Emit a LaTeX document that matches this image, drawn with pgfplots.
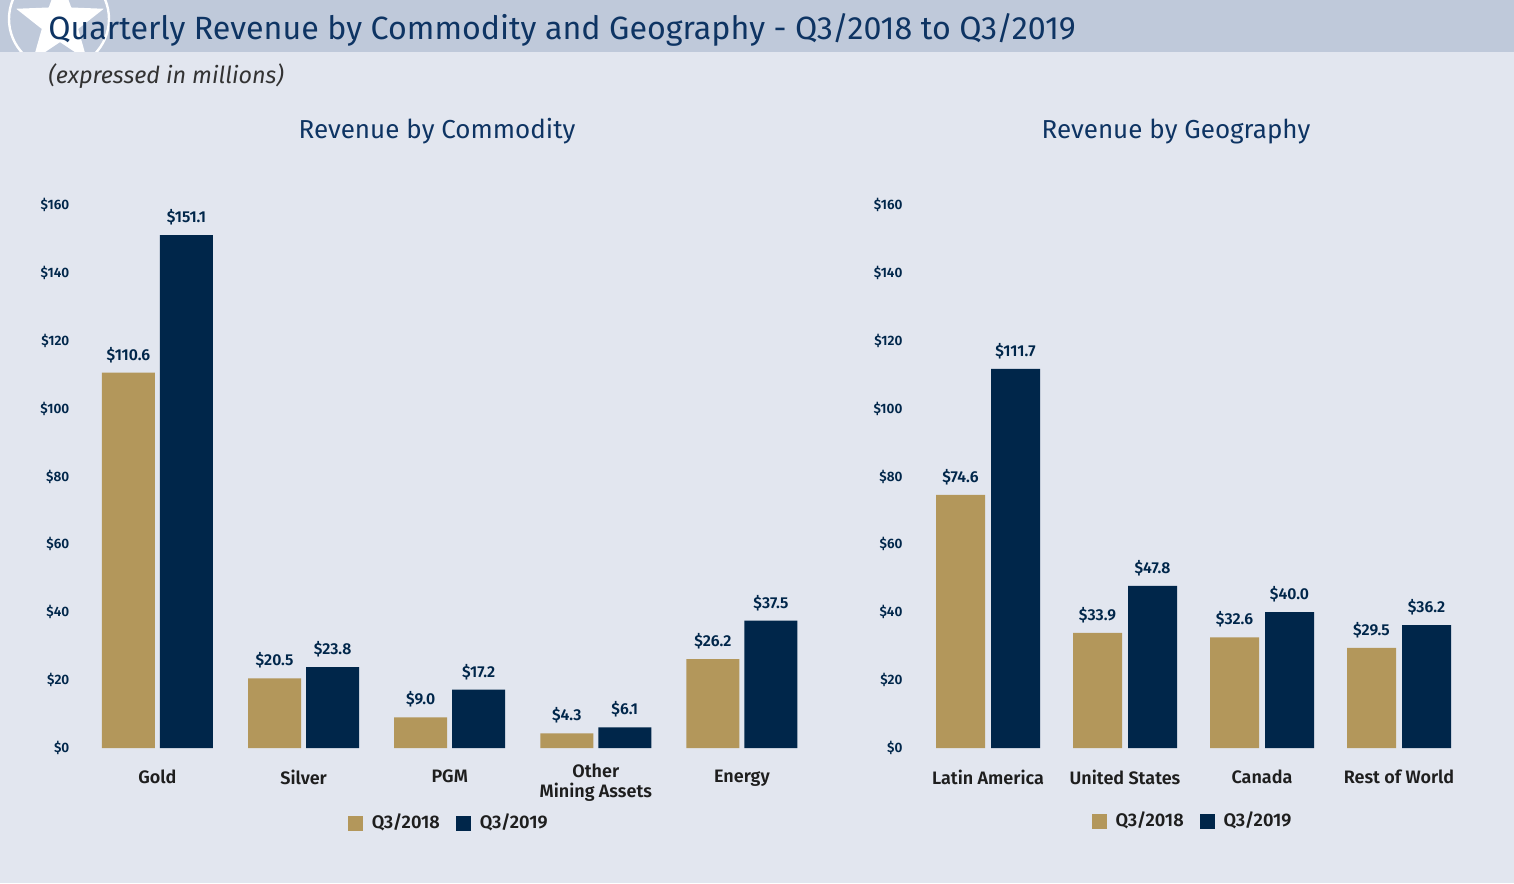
\documentclass[border=0pt]{standalone}
\usepackage{fontspec}
\setmainfont{Fira Sans}[BoldFont={Fira Sans SemiBold}]
\usepackage{pgfplots}
\pgfplotsset{compat=1.18}
\usetikzlibrary{shapes.geometric}
\definecolor{bg}{HTML}{E2E6EF}
\definecolor{banner}{HTML}{BFC9DA}
\definecolor{gold}{HTML}{B3975B}
\definecolor{navy}{HTML}{00264A}
\definecolor{titleblue}{HTML}{0E3463}
\definecolor{txt}{HTML}{1E1E1E}
\pgfplotsset{
 myaxis/.style={
  scale only axis, height=271.5pt, ymin=0, ymax=160,
  ytick={0,20,...,160},
  /pgf/number format/assume math mode=true,
  yticklabel={\$\pgfmathprintnumber{\tick}},
  axis line style={draw=none}, major tick length=0pt,
  ybar,
  yticklabel style={font=\bfseries\fontsize{6.8}{8}\selectfont, text=navy},
  xticklabel style={font=\bfseries\fontsize{9}{11}\selectfont, text=txt, align=center, yshift=-7.5pt},
  nodes near coords={\$\pgfmathprintnumber[fixed,precision=1,fixed zerofill]{\pgfplotspointmeta}},
  nodes near coords style={font=\bfseries\fontsize{7.9}{9}\selectfont, text=navy, yshift=1.5pt},
  legend style={draw=none, fill=none, legend columns=2, font=\bfseries\fontsize{9.1}{10}\selectfont, text=txt,
    /tikz/every odd column/.append style={column sep=2.5pt},
    /tikz/every even column/.append style={column sep=6pt}},
  legend image code/.code={\fill[##1] (0pt,-3.75pt) rectangle (7.5pt,3.75pt);},
 }
}
\begin{document}
\begin{tikzpicture}
\useasboundingbox (0,0) rectangle (757pt,441.5pt);
\fill[bg] (0,0) rectangle (757pt,441.5pt);
\fill[banner] (0,415.5pt) rectangle (757pt,441.5pt);
\begin{scope}
\clip (0,415.5pt) rectangle (757pt,441.5pt);
\draw[white, line width=1.2pt] (29.5pt,432pt) circle (25pt);
\node[star, star points=5, star point ratio=2.4, minimum size=46pt, inner sep=0pt, fill=white] at (30pt,430pt) {};
\end{scope}
\node[anchor=base west, font=\fontsize{16.1}{18}\selectfont, text=titleblue, inner sep=0pt] at (24pt,421.5pt)
  {Quarterly Revenue by Commodity and Geography - Q3/2018 to Q3/2019};
\node[anchor=base west, font=\itshape\fontsize{11.7}{13}\selectfont, text=black!80, inner sep=0pt] at (24pt,399.5pt)
  {(expressed in millions)};
\node[anchor=base, font=\fontsize{13}{15}\selectfont, text=titleblue, inner sep=0pt] at (218.5pt,372pt)
  {Revenue by Commodity};
\node[anchor=base, font=\fontsize{13}{15}\selectfont, text=titleblue, inner sep=0pt] at (588pt,372pt)
  {Revenue by Geography};

\begin{axis}[myaxis, at={(42.2pt,67.5pt)}, anchor=south west, width=365.3pt,
  xmin=-0.5, xmax=4.5, bar width=26.5pt,
  xtick={0,1,2,4}, xticklabels={Gold,Silver,PGM,Energy},
  extra x ticks={3}, extra x tick labels={Other\\[-1pt]Mining Assets},
  extra x tick style={xticklabel style={yshift=3pt}, major tick length=0pt},
  yticklabel style={xshift=-4pt},
  legend style={at={(0.5,0)}, anchor=center, yshift=-37.5pt}]
\addplot[fill=gold, draw=none, bar shift=-14.5pt] coordinates {(0,110.6) (1,20.5) (2,9.0) (3,4.3) (4,26.2)};
\addplot[fill=navy, draw=none, bar shift=14.5pt] coordinates {(0,151.1) (1,23.8) (2,17.2) (3,6.1) (4,37.5)};
\legend{Q3/2018,Q3/2019}
\end{axis}

\begin{axis}[myaxis, at={(459.75pt,67.5pt)}, anchor=south west, width=274pt,
  xmin=-0.5, xmax=3.5, bar width=24.5pt, xtick=data,
  xticklabels={Latin America,United States,Canada,Rest of World},
  yticklabel style={xshift=-5pt},
  legend style={at={(0.5,0)}, anchor=center, yshift=-36.5pt}]
\addplot[fill=gold, draw=none, bar shift=-13.75pt] coordinates {(0,74.6) (1,33.9) (2,32.6) (3,29.5)};
\addplot[fill=navy, draw=none, bar shift=13.75pt] coordinates {(0,111.7) (1,47.8) (2,40.0) (3,36.2)};
\legend{Q3/2018,Q3/2019}
\end{axis}
\end{tikzpicture}
\end{document}
